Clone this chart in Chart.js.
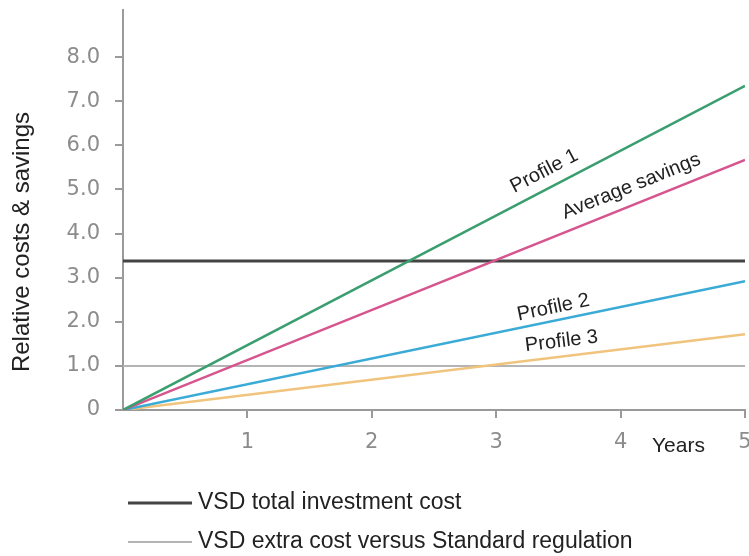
<!DOCTYPE html>
<html>
<head>
<meta charset="utf-8">
<script src="https://cdn.jsdelivr.net/npm/chart.js@4.4.0/dist/chart.umd.min.js"></script>
<style>
  html, body { margin: 0; padding: 0; background: #fff; }
  #wrap { width: 749px; height: 556px; }
</style>
</head>
<body>
<div id="wrap"><canvas id="costChart" width="749" height="556"></canvas></div>
<script>
// --- DATA ---
const years = [0, 5];
const profile1 = [0, 7.35];
const averageSavings = [0, 5.67];
const profile2 = [0, 2.92];
const profile3 = [0, 1.72];
const totalInvestment = [3.38, 3.38];
const extraCost = [1.0, 1.0];

const yTickValues = [0, 1, 2, 3, 4, 5, 6, 7, 8];
const yTickLabels = ['0', '1.0', '2.0', '3.0', '4.0', '5.0', '6.0', '7.0', '8.0'];
const xTickValues = [1, 2, 3, 4, 5];
const xTickLabels = ['1', '2', '3', '4', '5'];

const profileNames = ['Profile 1', 'Average savings', 'Profile 2', 'Profile 3'];
const legendNames = ['VSD total investment cost', 'VSD extra cost versus Standard regulation'];

// where along each line its name sits (year) and how far above it (px)
const labelPlacement = [
    { at: 3.45, lift: 17 },
    { at: 4.14, lift: 18 },
    { at: 3.48, lift: 13 },
    { at: 3.54, lift: 15 }
];

const toPoints = values => values.map((v, i) => ({ x: years[i], y: v }));

function lineSet(label, values, color, width) {
    return {
        label: label,
        data: toPoints(values),
        borderColor: color,
        borderWidth: width,
        showLine: true,
        pointRadius: 0,
        fill: false
    };
}

const datasets = [
    lineSet(profileNames[0], profile1, '#3a9e6e', 2.5),
    lineSet(profileNames[1], averageSavings, '#d6558e', 2.5),
    lineSet(profileNames[2], profile2, '#3aaad6', 2.5),
    lineSet(profileNames[3], profile3, '#f0c47c', 2.5),
    lineSet(legendNames[0], totalInvestment, '#444444', 3),
    lineSet(legendNames[1], extraCost, '#b4b4b4', 2)
];

// text that sits around the plot: line names, axis titles, legend
const annotations = {
    id: 'annotations',
    afterDraw(chart) {
        const c = chart.ctx;
        const xs = chart.scales.x;
        const ys = chart.scales.y;

        // names along the profile lines
        c.save();
        c.fillStyle = '#222';
        c.font = '20px "Liberation Sans", Arial, sans-serif';
        c.textAlign = 'center';
        c.textBaseline = 'middle';
        labelPlacement.forEach((p, i) => {
            const pts = chart.data.datasets[i].data;
            const x0 = xs.getPixelForValue(pts[0].x), y0 = ys.getPixelForValue(pts[0].y);
            const x1 = xs.getPixelForValue(pts[1].x), y1 = ys.getPixelForValue(pts[1].y);
            const ang = Math.atan2(y1 - y0, x1 - x0);
            const t = (p.at - pts[0].x) / (pts[1].x - pts[0].x);
            const px = x0 + (x1 - x0) * t;
            const py = y0 + (y1 - y0) * t;
            c.save();
            c.translate(px + Math.sin(ang) * p.lift, py - Math.cos(ang) * p.lift);
            c.rotate(ang);
            c.fillText(chart.data.datasets[i].label, 0, 0);
            c.restore();
        });

        // y axis title
        c.save();
        c.translate(22, 242);
        c.rotate(-Math.PI / 2);
        c.font = '24px "Liberation Sans", Arial, sans-serif';
        c.fillText('Relative costs & savings', 0, 0);
        c.restore();

        // x axis title
        c.textAlign = 'left';
        c.font = '21px "Liberation Sans", Arial, sans-serif';
        c.fillText('Years', 652, 446);

        // legend for the two flat lines
        c.font = '23px "Liberation Sans", Arial, sans-serif';
        [4, 5].forEach((di, k) => {
            const ds = chart.data.datasets[di];
            const y = 503 + k * 39;
            c.strokeStyle = ds.borderColor;
            c.lineWidth = ds.borderWidth;
            c.beginPath();
            c.moveTo(128, y);
            c.lineTo(192, y);
            c.stroke();
            c.fillStyle = '#222';
            c.fillText(ds.label, 198, y);
        });
        c.restore();
    }
};

const tickFont = { family: '"DejaVu Sans", sans-serif', size: 21 };

new Chart(document.getElementById('costChart').getContext('2d'), {
    type: 'scatter',
    data: { datasets: datasets },
    options: {
        responsive: false,
        animation: false,
        layout: { padding: { top: 10, right: 4, left: 0, bottom: 0 } },
        plugins: {
            legend: { display: false },
            tooltip: { enabled: false }
        },
        scales: {
            x: {
                type: 'linear',
                min: 0,
                max: 5,
                afterBuildTicks: scale => { scale.ticks = xTickValues.map(v => ({ value: v })); },
                afterFit: scale => { scale.height = 146; scale.paddingLeft = 0; scale.paddingRight = 0; },
                ticks: {
                    color: '#8c8c8c',
                    font: tickFont,
                    padding: 12,
                    maxRotation: 0,
                    callback: v => xTickLabels[xTickValues.indexOf(v)]
                },
                grid: { drawOnChartArea: false, drawTicks: true, tickLength: 8, color: '#9a9a9a', lineWidth: 2 },
                border: { display: true, color: '#9a9a9a', width: 2 }
            },
            y: {
                type: 'linear',
                min: 0,
                max: 9.07,
                afterBuildTicks: scale => { scale.ticks = yTickValues.map(v => ({ value: v })); },
                afterFit: scale => { scale.width = 123; scale.paddingTop = 0; scale.paddingBottom = 0; },
                ticks: {
                    color: '#8c8c8c',
                    font: tickFont,
                    padding: 15,
                    callback: v => yTickLabels[yTickValues.indexOf(v)]
                },
                grid: { drawOnChartArea: false, drawTicks: true, tickLength: 8, color: '#9a9a9a', lineWidth: 2 },
                border: { display: true, color: '#9a9a9a', width: 2 }
            }
        }
    },
    plugins: [annotations]
});
</script>
</body>
</html>
